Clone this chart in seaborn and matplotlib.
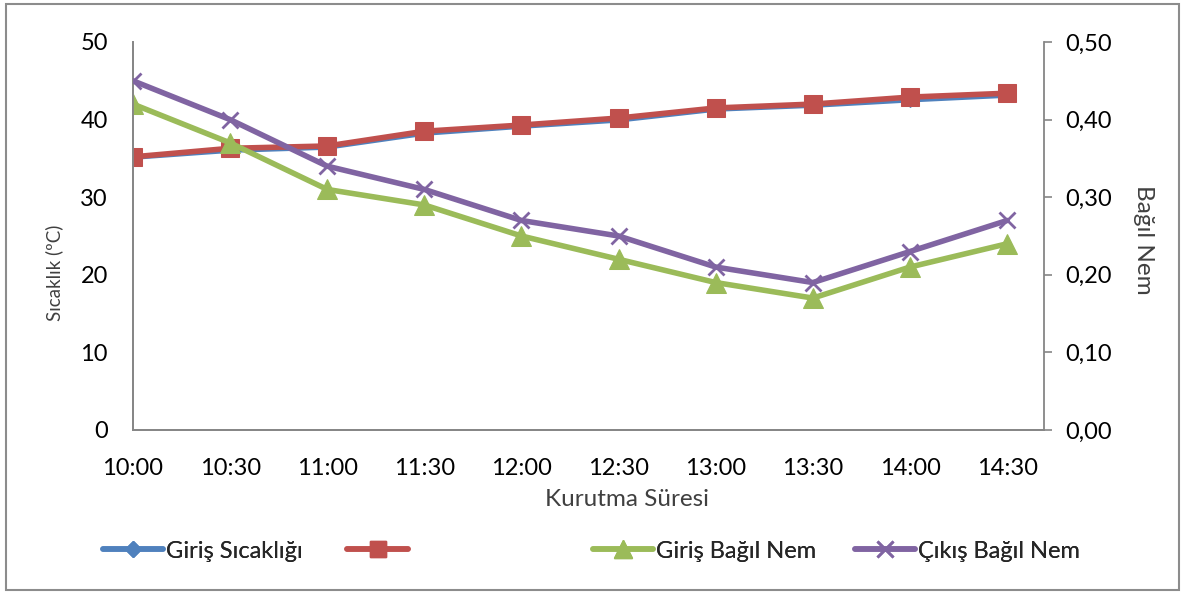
import matplotlib
matplotlib.use("Agg")
import matplotlib.pyplot as plt
from matplotlib.patches import Rectangle
from matplotlib.lines import Line2D
import seaborn as sns
import pandas as pd

# Drying log: inlet/outlet temperatures (°C) and relative humidity (fraction)
zamanlar = ["10:00", "10:30", "11:00", "11:30", "12:00",
            "12:30", "13:00", "13:30", "14:00", "14:30"]
giris_sicaklik = [35.0, 35.9, 36.3, 38.1, 39.0, 39.8, 41.2, 41.7, 42.4, 43.0]
cikis_sicaklik = [35.2, 36.3, 36.6, 38.5, 39.3, 40.2, 41.5, 42.0, 42.9, 43.4]
giris_nem = [0.42, 0.37, 0.31, 0.29, 0.25, 0.22, 0.19, 0.17, 0.21, 0.24]
cikis_nem = [0.45, 0.40, 0.34, 0.31, 0.27, 0.25, 0.21, 0.19, 0.23, 0.27]

sol_ticks = [0, 10, 20, 30, 40, 50]
sag_ticks = [0.0, 0.1, 0.2, 0.3, 0.4, 0.5]
etiketler = ["Giriş Sıcaklığı", "", "Giriş Bağıl Nem", "Çıkış Bağıl Nem"]

MAVI, KIRMIZI, YESIL, MOR = "#4F81BD", "#C0504D", "#9BBB59", "#8064A2"
GRI = "#868686"

sns.set_theme(style="white")
plt.rcParams["font.family"] = ["Lato", "DejaVu Sans"]

df = pd.DataFrame({
    "zaman": zamanlar,
    "giris_sicaklik": giris_sicaklik,
    "cikis_sicaklik": cikis_sicaklik,
    "giris_nem": giris_nem,
    "cikis_nem": cikis_nem,
})

fig = plt.figure(figsize=(11.86, 5.94), dpi=100)
ax = fig.add_axes([0.1121, 0.2761, 0.7682, 0.6532])
ax2 = ax.twinx()

sns.lineplot(data=df, x="zaman", y="giris_sicaklik", ax=ax, sort=False,
             color=MAVI, lw=2.2, marker="D", markersize=6,
             markeredgecolor=MAVI, zorder=2)
sns.lineplot(data=df, x="zaman", y="cikis_sicaklik", ax=ax, sort=False,
             color=KIRMIZI, lw=4, marker="s", markersize=13,
             markeredgecolor=KIRMIZI, zorder=3)
sns.lineplot(data=df, x="zaman", y="giris_nem", ax=ax2, sort=False,
             color=YESIL, lw=4, marker="^", markersize=14,
             markeredgecolor=YESIL, zorder=2)
sns.lineplot(data=df, x="zaman", y="cikis_nem", ax=ax2, sort=False,
             color=MOR, lw=4, marker="x", markersize=12,
             markeredgewidth=2, markeredgecolor=MOR, zorder=3)

ax.set_xlim(0, 9.38)
ax.set_ylim(0, 50)
ax2.set_ylim(0, 0.5)

ax.set_yticks(sol_ticks)
ax.set_yticklabels([str(v) for v in sol_ticks])
ax2.set_yticks(sag_ticks)
ax2.set_yticklabels([f"{v:.2f}".replace(".", ",") for v in sag_ticks])

ax.tick_params(axis="y", length=0, pad=18, labelsize=17, labelcolor="black")
ax.tick_params(axis="x", length=0, pad=20, labelsize=17, labelcolor="black")
ax2.tick_params(axis="y", length=6, width=1.2, color=GRI, direction="out",
                pad=9, labelsize=17, labelcolor="black", right=True)

for a in (ax, ax2):
    a.spines["top"].set_visible(False)
    for s in ("left", "right", "bottom"):
        a.spines[s].set_color(GRI)
        a.spines[s].set_linewidth(1.3)
    a.grid(False)
ax.spines["right"].set_visible(False)

ax.set_xlabel("Kurutma Süresi", fontsize=17.5, color="#404040")
ax.xaxis.set_label_coords(0.542, -0.152)
ax.set_ylabel("Sıcaklık (ºC)", fontsize=13.5, color="#404040")
ax.yaxis.set_label_coords(-0.077, 0.405)
ax2.set_ylabel("Bağıl Nem", fontsize=17.5, color="#404040", rotation=270)
ax2.yaxis.set_label_coords(1.121, 0.49)

# Legend entries laid out evenly along the bottom
stiller = [
    dict(color=MAVI, lw=4, marker="D", markersize=8, markeredgecolor=MAVI),
    dict(color=KIRMIZI, lw=4, marker="s", markersize=12, markeredgecolor=KIRMIZI),
    dict(color=YESIL, lw=4, marker="^", markersize=13, markeredgecolor=YESIL),
    dict(color=MOR, lw=4, marker="x", markersize=11, markeredgewidth=2,
         markeredgecolor=MOR),
]
konumlar = [0.087, 0.293, 0.5, 0.721]
for stil, etiket, xk in zip(stiller, etiketler, konumlar):
    h = Line2D([], [], **stil)
    leg = fig.legend([h], [etiket], loc="center left",
                     bbox_to_anchor=(xk, 0.072), frameon=False,
                     handlelength=2.55, handletextpad=0.12, borderpad=0,
                     borderaxespad=0, fontsize=17)
    fig.add_artist(leg)

# Chart-area border
fig.patches.append(Rectangle((0.005, 0.007), 0.989, 0.986,
                             transform=fig.transFigure, fill=False,
                             edgecolor="#8C8C8C", lw=1.5))

fig.savefig("out.png", dpi=100)
